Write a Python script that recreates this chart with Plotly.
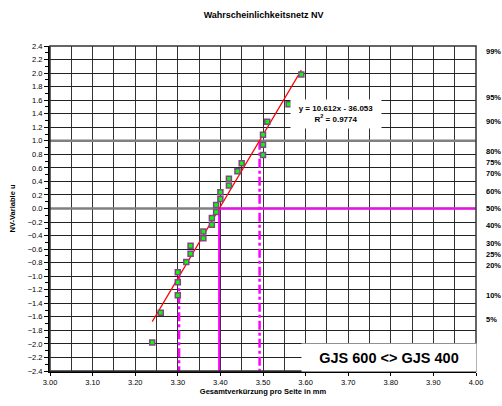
import plotly.graph_objects as go

# Messwerte (Gesamtverkuerzung pro Seite in mm) und NV-Variable u
x_vals = [3.24, 3.26, 3.30, 3.30, 3.30, 3.32, 3.33, 3.33, 3.36, 3.36, 3.38, 3.38, 3.39,
          3.39, 3.40, 3.40, 3.42, 3.42, 3.44, 3.45, 3.50, 3.50, 3.50, 3.51, 3.56, 3.59]
u_vals = [-1.98, -1.54, -1.28, -1.09, -0.94, -0.79, -0.67, -0.55, -0.44, -0.34, -0.24, -0.14, -0.05,
          0.05, 0.14, 0.24, 0.34, 0.44, 0.55, 0.67, 0.79, 0.94, 1.09, 1.28, 1.54, 1.98]

# Trendlinie y = 10.612x - 36.053
slope = 10.612
intercept = -36.053
r2 = 0.9774

# Mittelwert und +-1 sigma
mean_x = 3.397
sigma_x = [3.303, 3.492]
sigma_u = [-1.0, 1.0]

# Prozent-Beschriftung rechts (Quantile der Normalverteilung)
pct_labels = ['99%', '95%', '90%', '80%', '75%', '70%', '60%', '50%',
              '40%', '30%', '25%', '20%', '10%', '5%']
pct_u = [2.326, 1.645, 1.282, 0.842, 0.674, 0.524, 0.253, 0.0,
         -0.253, -0.524, -0.674, -0.842, -1.282, -1.645]

y_min, y_max = -2.4, 2.4
x_min, x_max = 3.0, 4.0

fig = go.Figure()

# graue Hilfslinien bei u = 1 und u = 0
for u in [1.0, 0.0]:
    fig.add_trace(go.Scatter(x=[x_min, x_max], y=[u, u], mode='lines',
                             line=dict(color='#808080', width=2.5),
                             hoverinfo='skip', showlegend=False))

# Mittelwert (magenta, durchgezogen)
fig.add_trace(go.Scatter(x=[x_max, mean_x, mean_x], y=[0, 0, y_min], mode='lines',
                         line=dict(color='#ff00ff', width=2),
                         hoverinfo='skip', showlegend=False))

# +-1 sigma (magenta, strichpunktiert)
for sx, su in zip(sigma_x, sigma_u):
    fig.add_trace(go.Scatter(x=[sx, sx], y=[su, y_min], mode='lines',
                             line=dict(color='#ff00ff', width=2.5, dash='dashdot'),
                             hoverinfo='skip', showlegend=False))

# Trendlinie
x_fit = [min(x_vals), max(x_vals)]
y_fit = [slope * v + intercept for v in x_fit]
fig.add_trace(go.Scatter(x=x_fit, y=y_fit, mode='lines',
                         line=dict(color='#ff0000', width=1.2),
                         hoverinfo='skip', showlegend=False))

# Messpunkte
fig.add_trace(go.Scatter(x=x_vals, y=u_vals, mode='markers',
                         marker=dict(symbol='square', size=5, color='#00ff00',
                                     line=dict(color='#884488', width=1.5)),
                         showlegend=False))

bold = dict(family='Arial, Liberation Sans, sans-serif', color='#000000')

fig.add_annotation(x=3.672, y=1.40, xref='x', yref='y',
                   text=f'<b>y = {slope}x - {abs(intercept)}<br>R<sup>2</sup> = {r2}</b>',
                   showarrow=False, bgcolor='white', font=dict(size=8, **bold),
                   width=88, height=26, align='center')

fig.add_annotation(x=3.795, y=-2.2, xref='x', yref='y',
                   text='<b>GJS 600 &lt;&gt; GJS 400</b>',
                   showarrow=False, bgcolor='white', font=dict(size=14.5, **bold),
                   width=172, height=25, align='center')

for lab, u in zip(pct_labels, pct_u):
    fig.add_annotation(x=1.0, y=u, xref='paper', yref='y', xanchor='left',
                       xshift=8, text=f'<b>{lab}</b>', showarrow=False,
                       font=dict(size=7.5, **bold))

fig.update_layout(
    width=502, height=406,
    margin=dict(l=50, r=26, t=46, b=35),
    paper_bgcolor='white', plot_bgcolor='white',
    title=dict(text='<b>Wahrscheinlichkeitsnetz NV</b>', x=0.525, xanchor='center',
               y=0.963, yanchor='middle', font=dict(size=9, **bold)),
    font=dict(size=7.5, **bold),
)

fig.update_xaxes(range=[x_min, x_max], dtick=0.1, tickformat='.2f',
                 showgrid=True, gridcolor='#333333', gridwidth=1,
                 minor=dict(dtick=0.05, showgrid=True, gridcolor='#333333', gridwidth=1),
                 showline=True, linecolor='#000000', linewidth=2, mirror=False,
                 ticks='outside', ticklen=3, tickcolor='#000000',
                 zeroline=False, automargin=False,
                 title=dict(text='<b>Gesamtverkürzung pro Seite in mm</b>',
                            font=dict(size=7.5, **bold), standoff=3),
                 tickfont=dict(size=7.5, **bold))

fig.update_yaxes(range=[y_min, y_max], dtick=0.2, tickformat='.1f',
                 showgrid=True, gridcolor='#222222', gridwidth=1,
                 showline=True, linecolor='#000000', linewidth=2, mirror=False,
                 ticks='outside', ticklen=4, tickcolor='#000000',
                 minor=dict(dtick=0.1, ticks='outside', ticklen=3, tickcolor='#000000', showgrid=False),
                 zeroline=False, automargin=False,
                 title=dict(text='<b>NV-Variable u</b>', font=dict(size=7.5, **bold), standoff=11),
                 tickfont=dict(size=7.5, **bold))

# Rahmen oben / rechts
fig.add_shape(type='rect', xref='paper', yref='paper', x0=0, y0=0, x1=1, y1=1,
              line=dict(color='#333333', width=1.5), layer='above')

# Seitenrand entfernen, damit die Grafik genau ins Fenster passt
fig.write_html('out.html', config={'displayModeBar': False},
               post_script="document.body.style.margin='0';")
